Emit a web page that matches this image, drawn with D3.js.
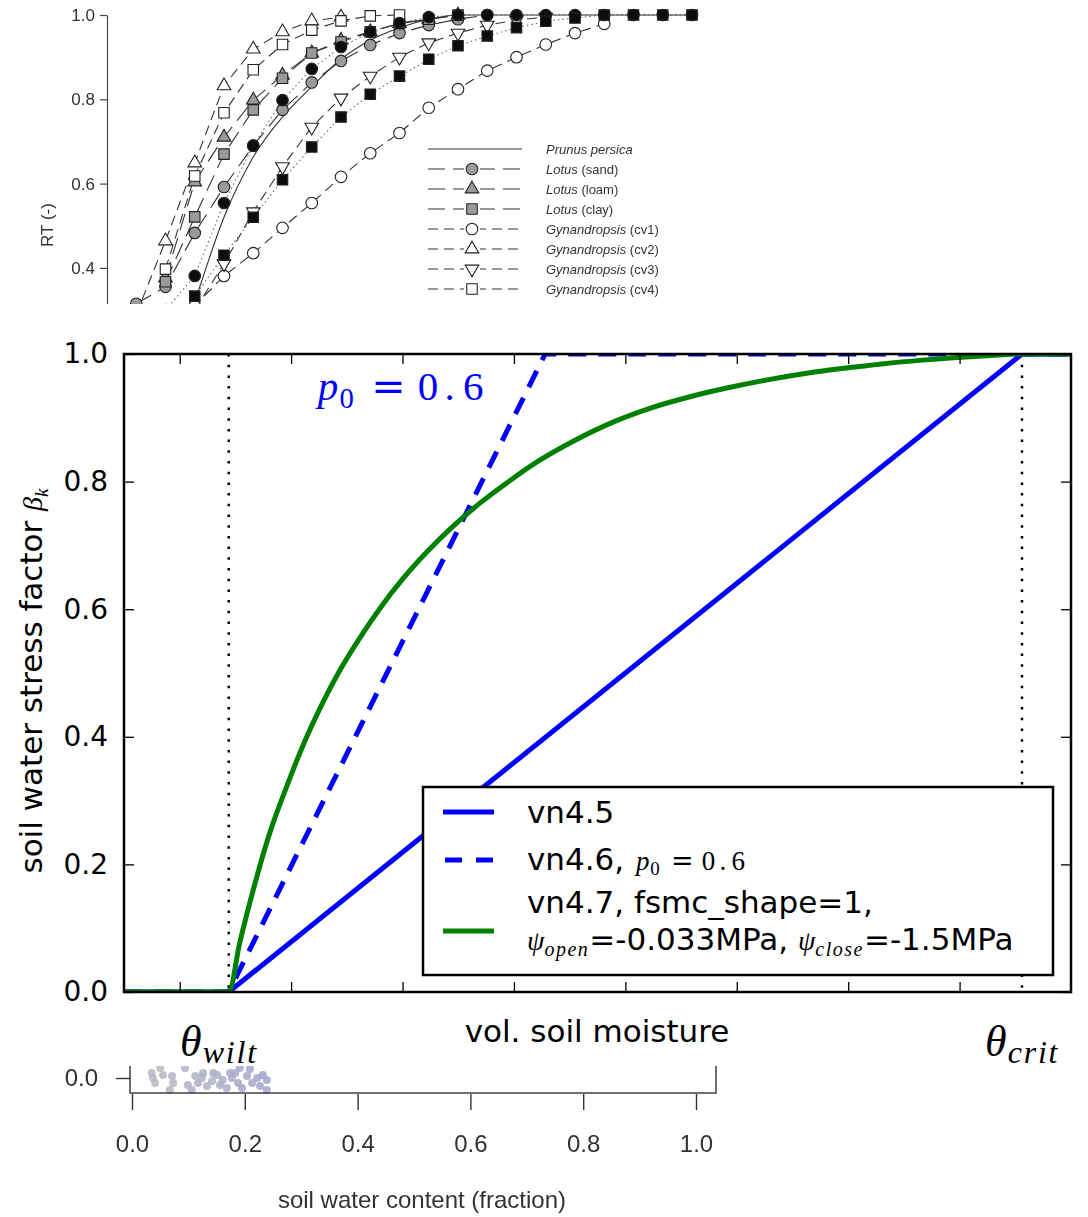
<!DOCTYPE html>
<html>
<head>
<meta charset="utf-8">
<script src="https://cdn.jsdelivr.net/npm/d3@7"></script>
<style>
  body { margin: 0; background: #fff; }
  svg { display: block; }
</style>
</head>
<body>
<svg id="chart" width="1088" height="1217"></svg>
<script>

// ---- main chart data (vol. soil moisture vs beta) ----
const thetaWilt = 0.122
const thetaCrit = 0.478
const xTicks = [0.10, 0.15, 0.20, 0.25, 0.30, 0.35, 0.40, 0.45]
const yTicks = [0.0, 0.2, 0.4, 0.6, 0.8, 1.0]

const vn45X = [0.075, 0.122, 0.478, 0.5]
const vn45Y = [0, 0, 1, 1]
const vn46X = [0.075, 0.122, 0.264, 0.5]
const vn46Y = [0, 0, 1, 1]
const vn47X = [0.075, 0.122, 0.127, 0.133, 0.140, 0.148, 0.156, 0.164, 0.172, 0.181, 0.190, 0.200, 0.211, 0.223, 0.235, 0.248, 0.260, 0.277, 0.295, 0.312, 0.329, 0.346, 0.363, 0.380, 0.398, 0.415, 0.432, 0.449, 0.466, 0.478, 0.5]
const vn47Y = [0, 0, 0.078, 0.160, 0.245, 0.322, 0.392, 0.452, 0.505, 0.556, 0.602, 0.647, 0.690, 0.731, 0.767, 0.801, 0.830, 0.864, 0.894, 0.916, 0.933, 0.947, 0.959, 0.969, 0.9775, 0.9845, 0.990, 0.9945, 0.998, 1, 1]

// ---- top panel data (RT curves) ----
const rtX = [0.05, 0.10, 0.15, 0.20, 0.25, 0.30, 0.35, 0.40, 0.45, 0.50, 0.55, 0.60, 0.65, 0.70, 0.75, 0.80, 0.85, 0.90, 0.95, 1.00]
const rtTicks = [0.4, 0.6, 0.8, 1.0]
const prunus     = [null, 0.12, 0.32, 0.52, 0.663, 0.758, 0.83, 0.895, 0.94, 0.97, 0.99, 1, 1, 1, 1, 1, 1, 1, 1, 1]
const lotusSand  = [0.315, 0.355, 0.483, 0.592, 0.69, 0.775, 0.84, 0.891, 0.929, 0.957, 0.976, 0.99, 1, null, null, null, null, null, null, null]
const lotusLoam  = [null, 0.376, 0.604, 0.71, 0.798, 0.857, 0.91, 0.94, 0.96, 0.98, 0.99, 1, null, null, null, null, null, null, null, null]
const lotusClay  = [null, 0.367, 0.521, 0.67, 0.775, 0.85, 0.91, 0.936, 0.96, 0.98, 0.99, 1, null, null, null, null, null, null, null, null]
const gynCv1     = [null, 0.27, 0.31, 0.381, 0.435, 0.495, 0.554, 0.616, 0.672, 0.72, 0.78, 0.824, 0.868, 0.90, 0.93, 0.957, 0.979, null, null, null]
const gynCv2     = [0.29, 0.464, 0.649, 0.832, 0.919, 0.96, 0.986, 0.995, null, null, null, null, null, null, null, null, null, null, null, null]
const gynCv3     = [null, null, 0.30, 0.41, 0.533, 0.64, 0.734, 0.803, 0.855, 0.90, 0.934, 0.957, 0.976, 0.988, 0.995, null, null, null, null, null]
const gynCv4     = [null, 0.397, 0.618, 0.768, 0.870, 0.93, 0.964, 0.986, 0.998, 1, null, null, null, null, null, null, null, null, null, null]
const blackCirc  = [null, 0.30, 0.381, 0.554, 0.69, 0.798, 0.872, 0.924, 0.96, 0.981, 0.995, 1, 1, 1, 1, 1, 1, 1, 1, 1]
const blackSq    = [null, null, 0.333, 0.43, 0.52, 0.609, 0.687, 0.758, 0.812, 0.855, 0.895, 0.927, 0.95, 0.97, 0.985, 0.993, 1, 1, 1, 1]
const rtLegend = ['Prunus persica', 'Lotus|(sand)', 'Lotus|(loam)', 'Lotus|(clay)', 'Gynandropsis|(cv1)', 'Gynandropsis|(cv2)', 'Gynandropsis|(cv3)', 'Gynandropsis|(cv4)']

// ---- bottom panel data (scatter fragment) ----
const swTicks = [0.0, 0.2, 0.4, 0.6, 0.8, 1.0]
const swPtX = [0.037, 0.041, 0.055, 0.071, 0.073, 0.067, 0.099, 0.112, 0.117, 0.124, 0.133, 0.142, 0.151, 0.156, 0.161, 0.168, 0.177, 0.183, 0.188, 0.195, 0.204, 0.213, 0.222, 0.227, 0.232, 0.239, 0.239, 0.126, 0.144, 0.174, 0.035, 0.106, 0.05, 0.094, 0.191, 0.209]
const swPtY = [0.0, -0.017, 0.01, 0.007, -0.017, -0.04, -0.023, 0.007, -0.017, 0, -0.027, -0.01, 0.01, -0.023, -0.007, -0.033, 0, 0.017, -0.017, -0.033, 0.007, -0.017, 0, -0.027, 0.01, -0.007, -0.04, 0.017, 0.017, 0.017, 0.017, -0.04, 0.033, 0.033, 0.033, 0.03]


const svg = d3.select('#chart')
svg.append('rect').attr('width', 1088).attr('height', 1217).attr('fill', '#fff')

const defs = svg.append('defs')
defs.append('clipPath').attr('id', 'clipTop').append('rect')
    .attr('x', 0).attr('y', 0).attr('width', 1088).attr('height', 304)
defs.append('clipPath').attr('id', 'clipBottom').append('rect')
    .attr('x', 0).attr('y', 1066).attr('width', 1088).attr('height', 151)
defs.append('clipPath').attr('id', 'clipPlot').append('rect')
    .attr('x', 124).attr('y', 354).attr('width', 947).attr('height', 638)
defs.append('filter').attr('id', 'soft')
    .append('feGaussianBlur').attr('stdDeviation', 0.55)


// ================= top panel =================
const topG = svg.append('g').attr('clip-path', 'url(#clipTop)')
                .append('g').attr('filter', 'url(#soft)')

const rtx = d3.scaleLinear().domain([0, 1]).range([107, 692])
const rty = d3.scaleLinear().domain([0, 1]).range([436.5, 15])

topG.append('g')
    .attr('transform', 'translate(107,0)')
    .call(d3.axisLeft(rty).tickValues(rtTicks).tickSize(7).tickSizeOuter(0).tickPadding(5).tickFormat(d3.format('.1f')))
    .call(g => g.selectAll('path, line').attr('stroke', '#444').attr('stroke-width', 1.2))
    .call(g => g.selectAll('text').attr('fill', '#333').style('font', '17px "Liberation Sans", Arial, sans-serif'))

topG.append('text')
    .attr('transform', 'translate(53,225) rotate(-90)')
    .attr('text-anchor', 'middle')
    .attr('fill', '#333')
    .style('font', '17px "Liberation Sans", Arial, sans-serif')
    .text('RT (-)')

const lotusDash = '17,8'
const gynDash = '10,6'
const rtSeries = [
    { v: prunus,    dash: null,  marker: null },
    { v: lotusSand, dash: lotusDash, marker: 'circle',   fill: '#9a9a9a' },
    { v: lotusLoam, dash: lotusDash, marker: 'triangle', fill: '#9a9a9a' },
    { v: lotusClay, dash: lotusDash, marker: 'square',   fill: '#9a9a9a' },
    { v: gynCv1,    dash: gynDash, marker: 'circle',   fill: '#fff' },
    { v: gynCv2,    dash: gynDash, marker: 'triangle', fill: '#fff' },
    { v: gynCv3,    dash: gynDash, marker: 'down',     fill: '#fff' },
    { v: gynCv4,    dash: gynDash, marker: 'square',   fill: '#fff' },
    { v: blackCirc, dash: '1.5,3', marker: 'circle', fill: '#111' },
    { v: blackSq,   dash: '1.5,3', marker: 'square', fill: '#111' }
]

const symPath = {
    circle: d3.symbol().type(d3.symbolCircle).size(105)(),
    square: d3.symbol().type(d3.symbolSquare).size(110)(),
    triangle: d3.symbol().type(d3.symbolTriangle).size(80)(),
    down: d3.symbol().type(d3.symbolTriangle).size(80)()
}
function marker(g, type, fill, px, py) {
    g.append('path')
        .attr('d', symPath[type])
        .attr('transform', `translate(${px},${py})` + (type == 'down' ? ' rotate(180)' : ''))
        .attr('fill', fill)
        .attr('stroke', '#222')
        .attr('stroke-width', 1.1)
}

const rtLine = d3.line()
    .defined(d => d[1] != null)
    .x(d => rtx(d[0]))
    .y(d => rty(d[1]))

rtSeries.forEach((s, i) => {
    const pts = rtX.map((x, j) => [x, s.v[j]])
    topG.append('path')
        .attr('d', i == 0 ? rtLine.curve(d3.curveMonotoneX)(pts) : rtLine.curve(d3.curveLinear)(pts))
        .attr('fill', 'none')
        .attr('stroke', i >= 8 ? '#666' : '#333')
        .attr('stroke-width', 1.1)
        .attr('stroke-dasharray', s.dash)
})
rtSeries.forEach(s => {
    if (!s.marker) return
    rtX.forEach((x, j) => {
        if (s.v[j] == null) return
        marker(topG, s.marker, s.fill, rtx(x), rty(s.v[j]))
    })
})

// legend of top panel
rtLegend.forEach((lab, i) => {
    const s = rtSeries[i]
    const ly = 149 + i * 20
    topG.append('line')
        .attr('x1', 428).attr('x2', 522).attr('y1', ly).attr('y2', ly)
        .attr('stroke', '#333').attr('stroke-width', 1.1)
        .attr('stroke-dasharray', s.dash)
    if (s.marker) {
        topG.append('rect').attr('x', 464).attr('y', ly - 7).attr('width', 16).attr('height', 14).attr('fill', '#fff')
        marker(topG, s.marker, s.fill, 472, ly)
    }
    const parts = lab.split('|')
    const t = topG.append('text')
        .attr('x', 546).attr('y', ly + 4.5)
        .attr('fill', '#333')
        .style('font', '13px "Liberation Sans", Arial, sans-serif')
    t.append('tspan').attr('font-style', 'italic').text(parts[0])
    if (parts[1]) t.append('tspan').text(' ' + parts[1])
})


// ================= main chart =================
const x = d3.scaleLinear().domain([0.075, 0.5]).range([124, 1071])
const y = d3.scaleLinear().domain([0, 1]).range([992, 354])

const plot = svg.append('g').attr('clip-path', 'url(#clipPlot)')

;[thetaWilt, thetaCrit].forEach(t => {
    plot.append('line')
        .attr('x1', x(t)).attr('x2', x(t))
        .attr('y1', y(1)).attr('y2', y(0))
        .attr('stroke', '#000')
        .attr('stroke-width', 2.5)
        .attr('stroke-dasharray', '2.5,8.2')
})

const line = d3.line().x(d => x(d[0])).y(d => y(d[1]))

plot.append('path')
    .attr('d', line(vn45X.map((v, i) => [v, vn45Y[i]])))
    .attr('fill', 'none').attr('stroke', '#0000ff').attr('stroke-width', 5)

plot.append('path')
    .attr('d', line(vn46X.map((v, i) => [v, vn46Y[i]])))
    .attr('fill', 'none').attr('stroke', '#0000ff').attr('stroke-width', 5)
    .attr('stroke-dasharray', '18,12')

plot.append('path')
    .attr('d', line.curve(d3.curveMonotoneX)(vn47X.map((v, i) => [v, vn47Y[i]])))
    .attr('fill', 'none').attr('stroke', '#008000').attr('stroke-width', 5)

// ticks all round, pointing in
const tickStyle = g => {
    g.select('.domain').remove()
    g.selectAll('line').attr('stroke', '#000').attr('stroke-width', 1.3)
}
svg.append('g').attr('transform', 'translate(0,992)')
    .call(d3.axisBottom(x).tickValues(xTicks).tickSize(-10).tickFormat('')).call(tickStyle)
svg.append('g').attr('transform', 'translate(0,354)')
    .call(d3.axisTop(x).tickValues(xTicks).tickSize(-10).tickFormat('')).call(tickStyle)
svg.append('g').attr('transform', 'translate(1071,0)')
    .call(d3.axisRight(y).tickValues(yTicks).tickSize(-10).tickFormat('')).call(tickStyle)
svg.append('g').attr('transform', 'translate(124,0)')
    .call(d3.axisLeft(y).tickValues(yTicks).tickSize(-10).tickPadding(16).tickFormat(d3.format('.1f')))
    .call(tickStyle)
    .call(g => g.selectAll('text').attr('fill', '#000').style('font', '28px "DejaVu Sans", sans-serif'))

svg.append('rect')
    .attr('x', 124).attr('y', 354).attr('width', 947).attr('height', 638)
    .attr('fill', 'none').attr('stroke', '#000').attr('stroke-width', 2.5)

const serif = '"Liberation Serif", "Times New Roman", serif'
const sans = '"DejaVu Sans", sans-serif'

// p0 = 0.6 in math style, size relative to 40px
function p0Text(g, px, py, size, color) {
    const s = size / 40
    const t = g.append('text').attr('x', px).attr('y', py).attr('fill', color)
        .style('font-family', serif).style('font-size', size + 'px')
    t.append('tspan').attr('font-style', 'italic').text('p')
    t.append('tspan').attr('dx', 1 * s).attr('dy', 8 * s).style('font-size', (size * 0.7) + 'px').text('0')
    t.append('tspan').attr('dx', 17 * s).attr('dy', -8 * s).style('font-family', '"DejaVu Serif", serif').text('=')
    t.append('tspan').attr('dx', 12 * s).text('0')
    t.append('tspan').attr('dx', 6 * s).text('.')
    t.append('tspan').attr('dx', 8 * s).text('6')
    return t
}
p0Text(svg, x(0.162), y(0.928), 41, '#0000ff')

// theta labels under the axis
function thetaLabel(px, sub) {
    const t = svg.append('text').attr('x', px).attr('y', 1056)
        .style('font-family', serif).style('font-style', 'italic').style('font-size', '44px')
    t.append('tspan').text('θ')
    t.append('tspan').attr('dy', 7).attr('dx', 1).style('font-size', '32px').style('letter-spacing', '1.8px').text(sub)
}
thetaLabel(180, 'wilt')
thetaLabel(985, 'crit')

svg.append('text')
    .attr('x', 597).attr('y', 1042)
    .attr('text-anchor', 'middle')
    .style('font', '31px ' + sans)
    .text('vol. soil moisture')

const ylab = svg.append('text')
    .attr('transform', 'translate(42,681) rotate(-90)')
    .attr('text-anchor', 'middle')
    .style('font-family', sans).style('font-size', '31px')
ylab.append('tspan').text('soil water stress factor ')
ylab.append('tspan').style('font-family', serif).style('font-style', 'italic').style('font-size', '28px').text('β')
ylab.append('tspan').attr('dy', 6).style('font-family', serif).style('font-style', 'italic').style('font-size', '19px').text('k')

// legend
const leg = svg.append('g')
leg.append('rect')
    .attr('x', 423).attr('y', 787).attr('width', 630).attr('height', 188)
    .attr('fill', '#fff').attr('stroke', '#000').attr('stroke-width', 2.5)
leg.append('line').attr('x1', 443).attr('x2', 494).attr('y1', 812).attr('y2', 812)
    .attr('stroke', '#0000ff').attr('stroke-width', 5)
leg.append('line').attr('x1', 445).attr('x2', 493).attr('y1', 860).attr('y2', 860)
    .attr('stroke', '#0000ff').attr('stroke-width', 5).attr('stroke-dasharray', '17,14')
leg.append('line').attr('x1', 443).attr('x2', 494).attr('y1', 931).attr('y2', 931)
    .attr('stroke', '#008000').attr('stroke-width', 5)

leg.append('text').attr('x', 527).attr('y', 823).style('font', '31px ' + sans).text('vn4.5')
leg.append('text').attr('x', 527).attr('y', 870).style('font', '31px ' + sans).text('vn4.6,')
p0Text(leg, 636, 870, 27, '#000')
leg.append('text').attr('x', 527).attr('y', 913).style('font', '31px ' + sans).text('vn4.7, fsmc_shape=1,')

const l2 = leg.append('text').attr('x', 527).attr('y', 950).style('font-family', sans).style('font-size', '31px')
l2.append('tspan').style('font-family', serif).style('font-style', 'italic').style('font-size', '28px').text('ψ')
l2.append('tspan').attr('dy', 6).style('font-family', serif).style('font-style', 'italic').style('font-size', '20px').style('letter-spacing', '1.5px').text('open')
l2.append('tspan').attr('dy', -6).text('=-0.033MPa, ')
l2.append('tspan').style('font-family', serif).style('font-style', 'italic').style('font-size', '28px').text('ψ')
l2.append('tspan').attr('dy', 6).style('font-family', serif).style('font-style', 'italic').style('font-size', '20px').style('letter-spacing', '1.5px').text('close')
l2.append('tspan').attr('dy', -6).text('=-1.5MPa')


// ================= bottom panel =================
const botG = svg.append('g').attr('clip-path', 'url(#clipBottom)')
                .append('g').attr('filter', 'url(#soft)')
const swx = d3.scaleLinear().domain([0, 1]).range([132, 696])
const swy = d3.scaleLinear().domain([0, 0.1]).range([1078, 1048])
const swColor = d3.scaleLinear().domain([0, 0.25]).range(['#bdbdc4', '#a2a2cc'])

botG.selectAll('circle')
    .data(swPtX.map((v, i) => [v, swPtY[i]]))
    .join('circle')
    .attr('cx', d => swx(d[0]))
    .attr('cy', d => swy(d[1]))
    .attr('r', 4)
    .attr('fill', d => swColor(d[0]))
    .attr('opacity', 0.85)

botG.append('rect')
    .attr('x', 130).attr('y', 1030).attr('width', 586).attr('height', 63)
    .attr('fill', 'none').attr('stroke', '#333').attr('stroke-width', 1.4)

botG.append('g').attr('transform', 'translate(130,0)')
    .call(d3.axisLeft(swy).tickValues([0]).tickSize(14).tickPadding(18).tickFormat(d3.format('.1f')))
    .call(g => g.select('.domain').remove())
    .call(g => g.selectAll('line').attr('stroke', '#333').attr('stroke-width', 1.4))
    .call(g => g.selectAll('text').attr('fill', '#333').style('font', '24px "Liberation Sans", Arial, sans-serif'))

botG.append('g').attr('transform', 'translate(0,1094)')
    .call(d3.axisBottom(swx).tickValues(swTicks).tickSize(16).tickPadding(25).tickFormat(d3.format('.1f')))
    .call(g => g.select('.domain').remove())
    .call(g => g.selectAll('line').attr('stroke', '#333').attr('stroke-width', 1.4))
    .call(g => g.selectAll('text').attr('fill', '#333').style('font', '24px "Liberation Sans", Arial, sans-serif'))

botG.append('text')
    .attr('x', 422).attr('y', 1208)
    .attr('text-anchor', 'middle')
    .attr('fill', '#333')
    .style('font', '24px "Liberation Sans", Arial, sans-serif')
    .text('soil water content (fraction)')

</script>
</body>
</html>
